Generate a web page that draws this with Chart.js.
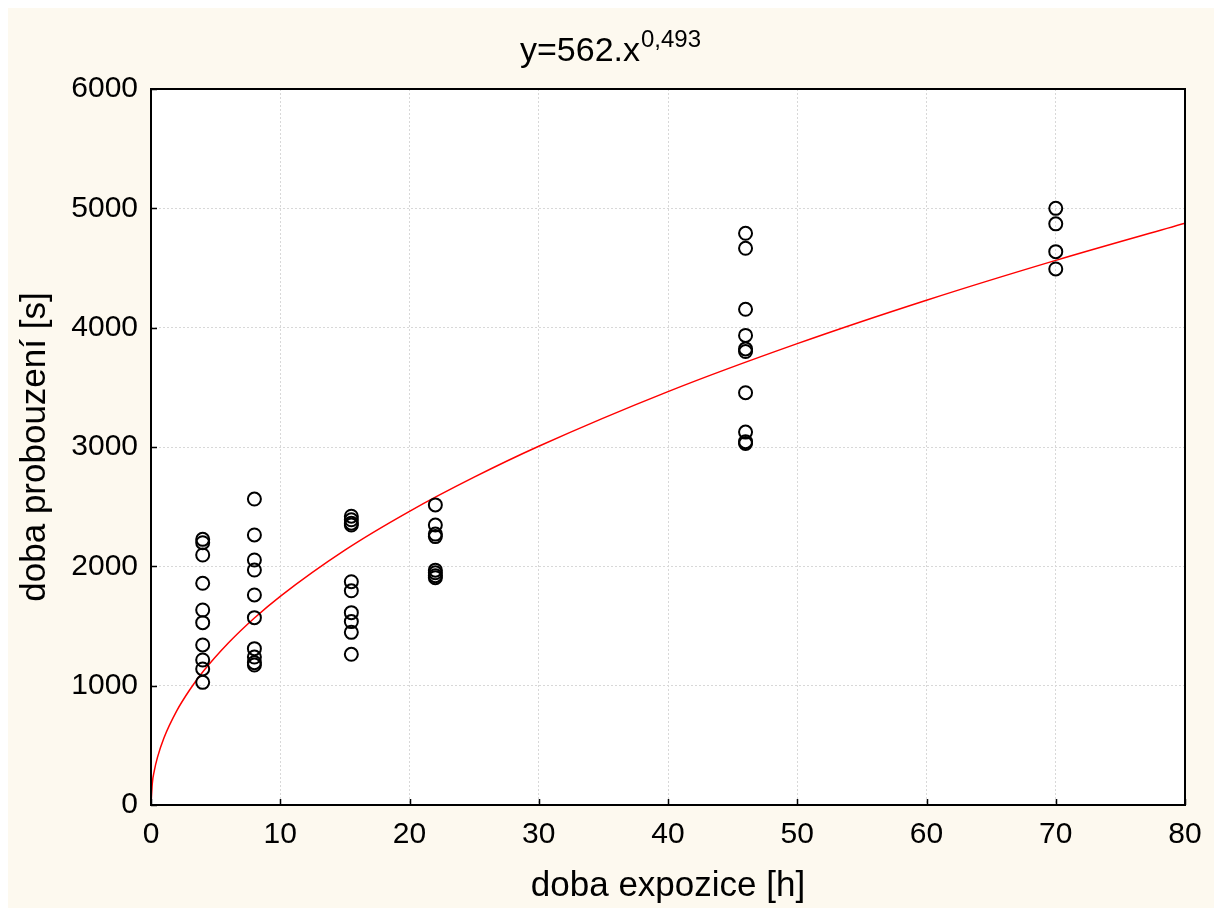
<!DOCTYPE html>
<html>
<head>
<meta charset="utf-8">
<script src="https://cdn.jsdelivr.net/npm/chart.js@4.4.1/dist/chart.umd.min.js"></script>
<style>
  html, body { margin: 0; padding: 0; background: #ffffff; }
  canvas { display: block; }
</style>
</head>
<body>
<canvas id="c" width="1214" height="908"></canvas>
<script>
// ---- data ----
const exposureTimes = [4, 8, 15.5, 22, 46, 70];
const wakeTimes4 = [2226, 2198, 2095, 1858, 1634, 1528, 1341, 1215, 1140, 1028];
const wakeTimes8 = [2564, 2263, 2053, 1969, 1760, 1570, 1310, 1240, 1193, 1173];
const wakeTimes15_5 = [2420, 2390, 2362, 2346, 1871, 1795, 1612, 1537, 1447, 1263];
const wakeTimes22 = [2515, 2346, 2270, 2249, 1968, 1946, 1922, 1905];
const wakeTimes46 = [4791, 4665, 4154, 3935, 3822, 3800, 3455, 3125, 3045, 3030];
const wakeTimes70 = [5000, 4870, 4637, 4492];
const fitX = [0, 0.1, 0.25, 0.5, 1, 2, 3, 4, 6, 8, 10, 15, 20, 25, 30, 40, 50, 60, 70, 80];
const fitY = [0, 181, 284, 399, 562, 791, 966, 1114, 1359, 1567, 1749, 2136, 2461, 2747, 3006, 3464, 3866, 4230, 4564, 4875];
const xTicks = [0, 10, 20, 30, 40, 50, 60, 70, 80];
const yTicks = [0, 1000, 2000, 3000, 4000, 5000, 6000];
const titleMain = 'y=562.x';
const titleSup = '0,493';
const xTitle = 'doba expozice [h]';
const yTitle = 'doba probouzení [s]';

const groups = [wakeTimes4, wakeTimes8, wakeTimes15_5, wakeTimes22, wakeTimes46, wakeTimes70];
const scatterPts = [];
groups.forEach((g, i) => g.forEach(v => scatterPts.push({x: exposureTimes[i], y: v})));
const fitPts = fitX.map((x, i) => ({x: x, y: fitY[i]}));

const FONT = "'Liberation Sans', Arial, sans-serif";

const bgPlugin = {
  id: 'bg',
  beforeDraw(chart) {
    const ctx = chart.ctx;
    ctx.save();
    ctx.fillStyle = '#ffffff';
    ctx.fillRect(0, 0, chart.width, chart.height);
    ctx.fillStyle = '#fdf9ef';
    ctx.fillRect(8, 8, chart.width - 8, chart.height - 8);
    const a = chart.chartArea;
    ctx.fillStyle = '#ffffff';
    ctx.fillRect(a.left, a.top, a.right - a.left, a.bottom - a.top);
    ctx.restore();
  },
  afterDatasetsDraw(chart) {
    const ctx = chart.ctx;
    const a = chart.chartArea;
    ctx.save();
    ctx.strokeStyle = '#000000';
    ctx.lineWidth = 2;
    ctx.strokeRect(a.left, a.top, a.right - a.left, a.bottom - a.top);
    // inward tick marks
    ctx.lineWidth = 1.5;
    const xs = chart.scales.x, ys = chart.scales.y;
    ctx.beginPath();
    xTicks.forEach(t => {
      const p = Math.round(xs.getPixelForValue(t)) + 0.5;
      ctx.moveTo(p, a.bottom); ctx.lineTo(p, a.bottom - 6);
    });
    yTicks.forEach(t => {
      const p = Math.round(ys.getPixelForValue(t)) + 0.5;
      ctx.moveTo(a.left, p); ctx.lineTo(a.left + 6, p);
    });
    ctx.stroke();
    // title with superscript
    ctx.fillStyle = '#000000';
    ctx.textBaseline = 'alphabetic';
    ctx.textAlign = 'left';
    const mainFont = '34px ' + FONT;
    const supFont = '24px ' + FONT;
    ctx.font = mainFont;
    const w1 = ctx.measureText(titleMain).width;
    ctx.font = supFont;
    const w2 = ctx.measureText(titleSup).width;
    const cx = 610;
    const x0 = cx - (w1 + w2) / 2;
    ctx.font = mainFont;
    ctx.fillText(titleMain, x0, 61);
    ctx.font = supFont;
    ctx.fillText(titleSup, x0 + w1 + 1, 47);
    ctx.restore();
  }
};

new Chart(document.getElementById('c'), {
  type: 'scatter',
  data: {
    datasets: [
      {
        data: scatterPts,
        pointStyle: 'circle',
        pointRadius: 6.5,
        pointHoverRadius: 6.5,
        pointBorderWidth: 2,
        pointBackgroundColor: 'rgba(0,0,0,0)',
        pointBorderColor: '#000000',
        showLine: false
      },
      {
        type: 'line',
        data: fitPts,
        borderColor: '#ff0000',
        borderWidth: 1.5,
        pointRadius: 0,
        fill: false,
        cubicInterpolationMode: 'monotone'
      }
    ]
  },
  options: {
    responsive: false,
    animation: false,
    events: [],
    layout: { padding: { left: 0, right: 29, top: 89, bottom: 0 } },
    plugins: { legend: { display: false }, tooltip: { enabled: false }, title: { display: false } },
    scales: {
      x: {
        type: 'linear',
        min: 0, max: 80,
        afterFit(s) { s.height = 103; },
        afterBuildTicks(s) { s.ticks = xTicks.map(v => ({value: v})); },
        border: { display: false, dash: [2, 2] },
        grid: { color: '#d8d8d8', lineWidth: 1, drawTicks: false },
        ticks: { color: '#000000', padding: 12, maxRotation: 0, font: { family: FONT, size: 30 }, callback: v => String(v) },
        title: { display: true, text: xTitle, color: '#000000', padding: { top: 0, bottom: 1 }, font: { family: FONT, size: 35 } }
      },
      y: {
        type: 'linear',
        min: 0, max: 6000,
        afterFit(s) { s.width = 151; },
        afterBuildTicks(s) { s.ticks = yTicks.map(v => ({value: v})); },
        border: { display: false, dash: [2, 2] },
        grid: { color: '#d8d8d8', lineWidth: 1, drawTicks: false },
        ticks: { color: '#000000', padding: 13, font: { family: FONT, size: 30 }, callback: v => String(v) },
        title: { display: true, text: yTitle, color: '#000000', padding: { top: 14, bottom: 0 }, font: { family: FONT, size: 35 } }
      }
    }
  },
  plugins: [bgPlugin]
});
</script>
</body>
</html>
